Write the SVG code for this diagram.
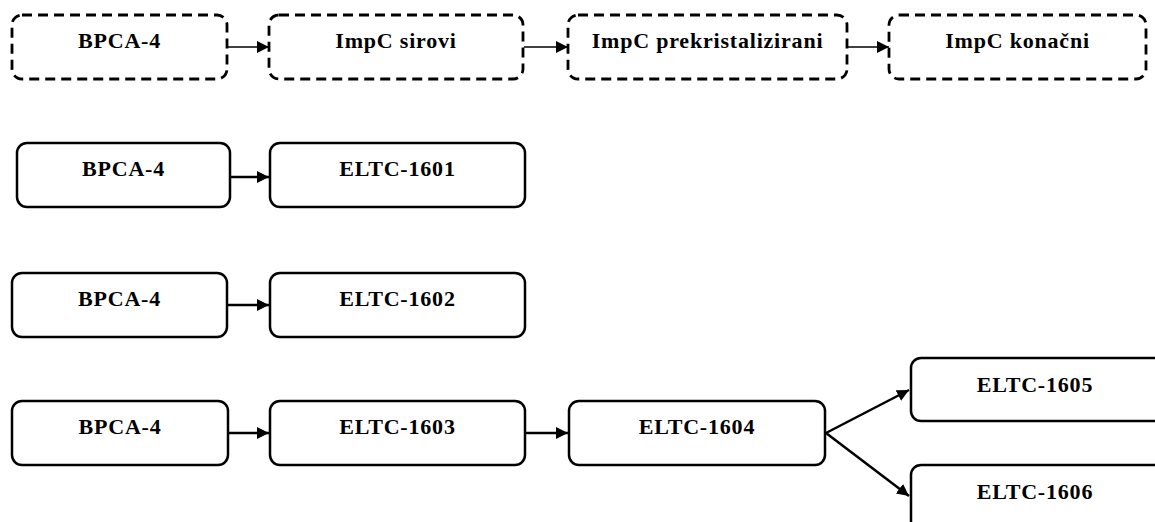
<svg xmlns="http://www.w3.org/2000/svg" width="1155" height="522" viewBox="0 0 1155 522">
<style>
.n rect{fill:#fff;stroke:#000;stroke-width:2.5}
.d rect{stroke-dasharray:10 6;stroke-width:2.8}
.n text{font-family:"Liberation Serif","Times New Roman",serif;font-weight:bold;font-size:22px;letter-spacing:0.8px;text-anchor:middle;fill:#000}
#edges line{stroke:#000;stroke-width:2.5;marker-end:url(#ah)}
#edges line.t{stroke-width:1.6}
</style>
<defs>
<marker id="ah" markerUnits="userSpaceOnUse" markerWidth="14" markerHeight="14" refX="12" refY="6" orient="auto">
<path d="M0,0 L12,6 L0,12 Z" fill="#000"/>
</marker>
</defs>
<rect width="1155" height="522" fill="#fff"/>
<g id="edges">
<line class="t" x1="228" y1="47" x2="269" y2="47"/>
<line class="t" x1="524" y1="47" x2="568" y2="47"/>
<line class="t" x1="848" y1="47" x2="889" y2="47"/>
<line x1="230" y1="177" x2="269" y2="177"/>
<line x1="228" y1="305" x2="269" y2="305"/>
<line x1="228" y1="433" x2="269" y2="433"/>
<line x1="526" y1="433" x2="568" y2="433"/>
<line x1="826" y1="433" x2="909" y2="390"/>
<line x1="826" y1="433" x2="909" y2="496"/>
</g>
<g id="r1a" class="n d"><rect x="12" y="15" width="215" height="64" rx="10"/><text x="119.5" y="48">BPCA-4</text></g>
<g id="r1b" class="n d"><rect x="269" y="15" width="254" height="64" rx="10"/><text x="396" y="48">ImpC sirovi</text></g>
<g id="r1c" class="n d"><rect x="568" y="15" width="279" height="64" rx="10"/><text x="707.5" y="48">ImpC prekristalizirani</text></g>
<g id="r1d" class="n d"><rect x="889" y="15" width="257" height="64" rx="10"/><text x="1017.5" y="48">ImpC konačni</text></g>
<g id="r2a" class="n"><rect x="17" y="143" width="213" height="64" rx="10"/><text x="123.5" y="176">BPCA-4</text></g>
<g id="r2b" class="n"><rect x="270" y="143" width="255" height="64" rx="10"/><text x="397.5" y="176">ELTC-1601</text></g>
<g id="r3a" class="n"><rect x="12" y="273" width="215" height="64" rx="10"/><text x="119.5" y="306">BPCA-4</text></g>
<g id="r3b" class="n"><rect x="270" y="273" width="255" height="64" rx="10"/><text x="397.5" y="306">ELTC-1602</text></g>
<g id="r4a" class="n"><rect x="12" y="401" width="216" height="64" rx="10"/><text x="120" y="434">BPCA-4</text></g>
<g id="r4b" class="n"><rect x="270" y="401" width="255" height="64" rx="10"/><text x="397.5" y="434">ELTC-1603</text></g>
<g id="r4c" class="n"><rect x="569" y="401" width="256" height="64" rx="10"/><text x="697" y="434">ELTC-1604</text></g>
<g id="r4d" class="n"><rect x="911" y="358" width="260" height="63" rx="10"/><text x="1035" y="392">ELTC-1605</text></g>
<g id="r4e" class="n"><rect x="911" y="465" width="260" height="70" rx="10"/><text x="1035" y="499">ELTC-1606</text></g>
</svg>
